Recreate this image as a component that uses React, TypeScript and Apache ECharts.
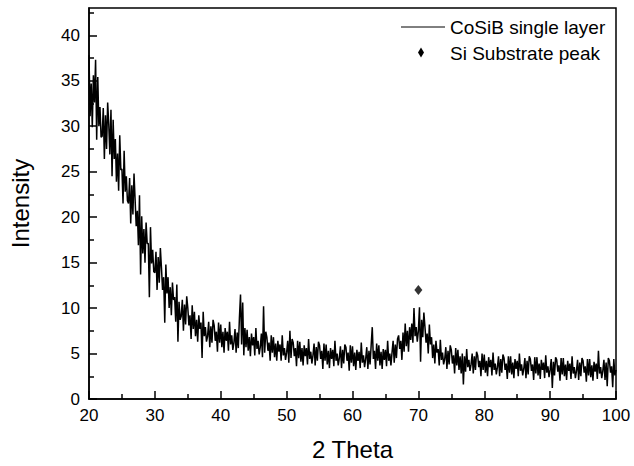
import React, { useEffect, useRef } from "react";
import * as echarts from "echarts";

// 2θ grid of the scan (degrees): 6 readings per degree
const thetaStart = 20;
const readingsPerDegree = 6;

// Intensity, 6 readings per degree
const intensity: number[] = [
  37.8, 31.1, 34.7, 29.9, 35.6, 32.6, // 20
  37.3, 28.5, 35.4, 30.0, 32.1, 28.8, // 21
  28.9, 32.0, 26.4, 31.2, 27.5, 32.6, // 22
  30.2, 26.9, 31.8, 24.5, 30.7, 26.4, // 23
  28.6, 23.9, 27.0, 22.9, 29.0, 25.2, // 24
  25.3, 21.5, 27.3, 22.8, 24.5, 21.8, // 25
  21.5, 24.3, 19.3, 23.5, 20.3, 24.8, // 26
  21.9, 19.0, 20.7, 16.9, 22.4, 13.7, // 27
  20.1, 16.0, 18.7, 15.0, 19.4, 17.1, // 28
  17.1, 11.2, 18.9, 14.9, 16.4, 14.0, // 29
  13.9, 16.2, 12.0, 15.6, 12.8, 16.6, // 30
  14.4, 12.0, 13.4, 8.4, 14.8, 11.6, // 31
  13.4, 10.0, 12.3, 9.2, 12.8, 10.9, // 32
  11.2, 8.5, 12.6, 6.3, 10.7, 8.7, // 33
  9.1, 10.9, 7.5, 10.4, 8.2, 11.3, // 34
  10.0, 8.1, 9.2, 6.6, 10.3, 7.7, // 35
  9.6, 6.9, 8.7, 6.3, 9.2, 7.7, // 36
  8.4, 4.5, 9.6, 6.9, 7.9, 6.3, // 37
  6.9, 8.5, 5.7, 8.0, 6.2, 8.7, // 38
  8.1, 6.4, 7.4, 5.2, 8.4, 6.2, // 39
  8.2, 5.7, 7.4, 5.1, 7.8, 6.4, // 40
  7.4, 5.3, 8.5, 6.0, 7.0, 5.4, // 41
  6.2, 7.7, 5.1, 7.3, 5.6, 8.9, // 42
  11.5, 6.0, 10.6, 4.8, 7.8, 5.7, // 43
  7.6, 5.3, 6.8, 4.7, 7.2, 5.9, // 44
  6.8, 4.8, 7.8, 5.5, 6.4, 4.9, // 45
  5.7, 7.2, 4.6, 10.2, 5.1, 7.4, // 46
  6.8, 5.3, 6.2, 4.2, 7.0, 5.1, // 47
  6.8, 4.6, 6.1, 4.2, 6.4, 5.2, // 48
  6.0, 4.2, 7.0, 4.8, 5.6, 4.3, // 49
  5.1, 6.4, 4.0, 7.5, 4.5, 6.6, // 50
  6.2, 4.7, 5.6, 3.6, 6.4, 4.5, // 51
  6.3, 4.1, 5.6, 3.7, 5.9, 4.7, // 52
  5.6, 3.8, 6.6, 4.4, 5.2, 3.9, // 53
  4.8, 6.1, 3.7, 5.7, 4.2, 6.3, // 54
  5.9, 4.4, 5.3, 3.3, 6.1, 4.2, // 55
  6.0, 3.8, 5.3, 3.4, 5.6, 4.4, // 56
  5.4, 3.6, 6.4, 4.2, 5.0, 3.7, // 57
  4.5, 5.8, 3.4, 5.4, 3.9, 6.0, // 58
  5.7, 4.2, 5.1, 3.1, 5.9, 4.0, // 59
  5.8, 3.6, 5.1, 3.2, 5.4, 4.2, // 60
  5.2, 3.4, 6.2, 4.0, 4.8, 3.5, // 61
  4.4, 5.7, 3.3, 5.3, 3.8, 5.9, // 62
  7.9, 4.4, 5.3, 3.3, 6.1, 4.2, // 63
  5.9, 3.7, 5.2, 3.3, 5.5, 4.3, // 64
  5.4, 3.6, 6.4, 4.2, 5.0, 3.7, // 65
  5.1, 6.4, 4.0, 6.0, 4.5, 6.6, // 66
  7.0, 5.5, 6.4, 4.3, 7.3, 5.2, // 67
  8.3, 5.8, 7.5, 5.2, 7.9, 6.5, // 68
  8.3, 6.2, 10.0, 6.9, 7.9, 6.3, // 69
  7.5, 10.1, 4.1, 8.7, 6.8, 9.5, // 70
  7.9, 6.2, 7.2, 5.0, 8.2, 6.0, // 71
  6.8, 4.5, 6.0, 3.9, 6.4, 5.1, // 72
  5.5, 3.7, 6.5, 4.3, 5.1, 3.8, // 73
  4.4, 5.7, 3.3, 5.3, 3.8, 5.9, // 74
  5.4, 3.9, 4.8, 2.8, 5.6, 3.7, // 75
  5.4, 3.2, 4.7, 2.8, 5.0, 1.6, // 76
  4.7, 3.0, 5.5, 3.5, 4.3, 3.1, // 77
  3.8, 5.0, 2.8, 4.7, 3.2, 5.2, // 78
  4.8, 3.5, 4.2, 2.5, 5.0, 3.2, // 79
  4.9, 2.9, 4.2, 2.5, 4.6, 3.5, // 80
  4.3, 2.6, 5.1, 3.2, 3.9, 2.7, // 81
  3.5, 4.7, 2.5, 4.4, 2.9, 4.9, // 82
  4.5, 3.2, 3.9, 2.2, 4.7, 2.9, // 83
  4.7, 2.7, 4.0, 2.3, 4.4, 3.3, // 84
  4.2, 2.5, 5.0, 3.1, 3.8, 2.6, // 85
  3.3, 4.5, 2.3, 4.2, 2.7, 4.7, // 86
  4.4, 3.1, 3.8, 2.1, 4.6, 2.8, // 87
  4.6, 2.6, 3.9, 2.2, 4.3, 3.2, // 88
  4.0, 2.3, 4.8, 2.9, 3.6, 2.4, // 89
  3.2, 4.4, 1.2, 4.1, 2.6, 4.6, // 90
  4.3, 3.0, 3.7, 2.0, 4.5, 2.7, // 91
  4.5, 2.5, 3.8, 2.1, 4.2, 3.1, // 92
  3.9, 2.2, 4.7, 2.8, 3.5, 2.3, // 93
  3.1, 4.3, 2.1, 4.0, 2.5, 4.5, // 94
  4.2, 2.9, 3.6, 1.9, 4.4, 2.6, // 95
  4.4, 2.4, 3.7, 2.0, 4.1, 3.0, // 96
  3.9, 2.2, 5.3, 2.8, 3.5, 2.3, // 97
  3.1, 4.3, 2.1, 4.0, 1.4, 4.5, // 98
  4.2, 2.9, 3.6, 1.3, 4.4, 2.6, // 99
  3.2, // 100
];

// Si substrate peak marker
const siPeak: [number, number][] = [[70, 12]];

const seriesNames = ["CoSiB single layer", "Si Substrate peak"];

// Axis ticks
const yMajorTicks = [0, 5, 10, 15, 20, 25, 30, 35, 40];
const yMinorTicks = [2.5, 7.5, 12.5, 17.5, 22.5, 27.5, 32.5, 37.5, 42.5];

const FONT = "'Liberation Sans', Arial, Helvetica, sans-serif";

export default function App() {
  const ref = useRef<HTMLDivElement>(null);

  useEffect(() => {
    if (!ref.current) return;
    const chart = echarts.init(ref.current, undefined, { renderer: "svg" });
    const scan = intensity.map((v, i) => [thetaStart + i / readingsPerDegree, v]);

    const axisLine = { show: true, lineStyle: { color: "#000", width: 1.5 } };
    const legendText = { fontSize: 19, fill: "#000", fontFamily: FONT, verticalAlign: "middle", align: "left" };

    chart.setOption({
      animation: false,
      backgroundColor: "#fff",
      textStyle: { fontFamily: FONT },
      grid: {
        left: 86,
        right: 18,
        top: 8,
        bottom: 67,
        show: true,
        borderColor: "#000",
        borderWidth: 1.5,
        backgroundColor: "transparent",
      },
      graphic: [
        { type: "line", shape: { x1: 401, y1: 27, x2: 445, y2: 27 }, style: { stroke: "#000", lineWidth: 1 } },
        { type: "text", x: 450, y: 27, style: { ...legendText, text: seriesNames[0] } },
        {
          type: "polygon",
          shape: { points: [[421, 47.5], [424, 52.5], [421, 57.5], [418, 52.5]] },
          style: { fill: "#000" },
        },
        { type: "text", x: 450, y: 53, style: { ...legendText, text: seriesNames[1] } },
      ],
      xAxis: {
        type: "value",
        min: 20,
        max: 100,
        interval: 10,
        name: "2 Theta",
        nameLocation: "middle",
        nameGap: 38,
        nameTextStyle: { fontSize: 24, color: "#000", fontFamily: FONT },
        axisLine,
        axisTick: { show: true, inside: true, length: 8, lineStyle: { color: "#000", width: 1.5 } },
        minorTick: { show: true, splitNumber: 2, length: 5, lineStyle: { color: "#000", width: 1.5 } },
        axisLabel: { fontSize: 17, color: "#000", margin: 8, fontFamily: FONT },
        splitLine: { show: false },
        minorSplitLine: { show: false },
      },
      yAxis: [
        {
          type: "value",
          min: 0,
          max: 43,
          interval: 5,
          name: "Intensity",
          nameLocation: "middle",
          nameGap: 57,
          nameTextStyle: { fontSize: 24, color: "#000", fontFamily: FONT },
          axisLine,
          axisTick: {
            show: true,
            inside: true,
            length: 8,
            customValues: yMajorTicks,
            lineStyle: { color: "#000", width: 1.5 },
          },
          axisLabel: { fontSize: 17, color: "#000", margin: 9, fontFamily: FONT, customValues: yMajorTicks },
          splitLine: { show: false },
        },
        {
          type: "value",
          min: 0,
          max: 43,
          position: "left",
          axisLine: { show: false },
          axisTick: {
            show: true,
            inside: true,
            length: 5,
            customValues: yMinorTicks,
            lineStyle: { color: "#000", width: 1.5 },
          },
          axisLabel: { show: false },
          splitLine: { show: false },
        },
      ],
      series: [
        {
          name: seriesNames[0],
          type: "line",
          data: scan,
          symbol: "none",
          lineStyle: { color: "#000", width: 1.5 },
          itemStyle: { color: "#000" },
          z: 2,
        },
        {
          name: seriesNames[1],
          type: "scatter",
          data: siPeak,
          symbol: "diamond",
          symbolSize: [8, 10],
          itemStyle: { color: "#000" },
          z: 3,
        },
      ],
    });

    return () => chart.dispose();
  }, []);

  return (
    <div
      ref={ref}
      style={{ position: "fixed", left: 0, top: 0, width: 634, height: 466, background: "#fff" }}
    />
  );
}
